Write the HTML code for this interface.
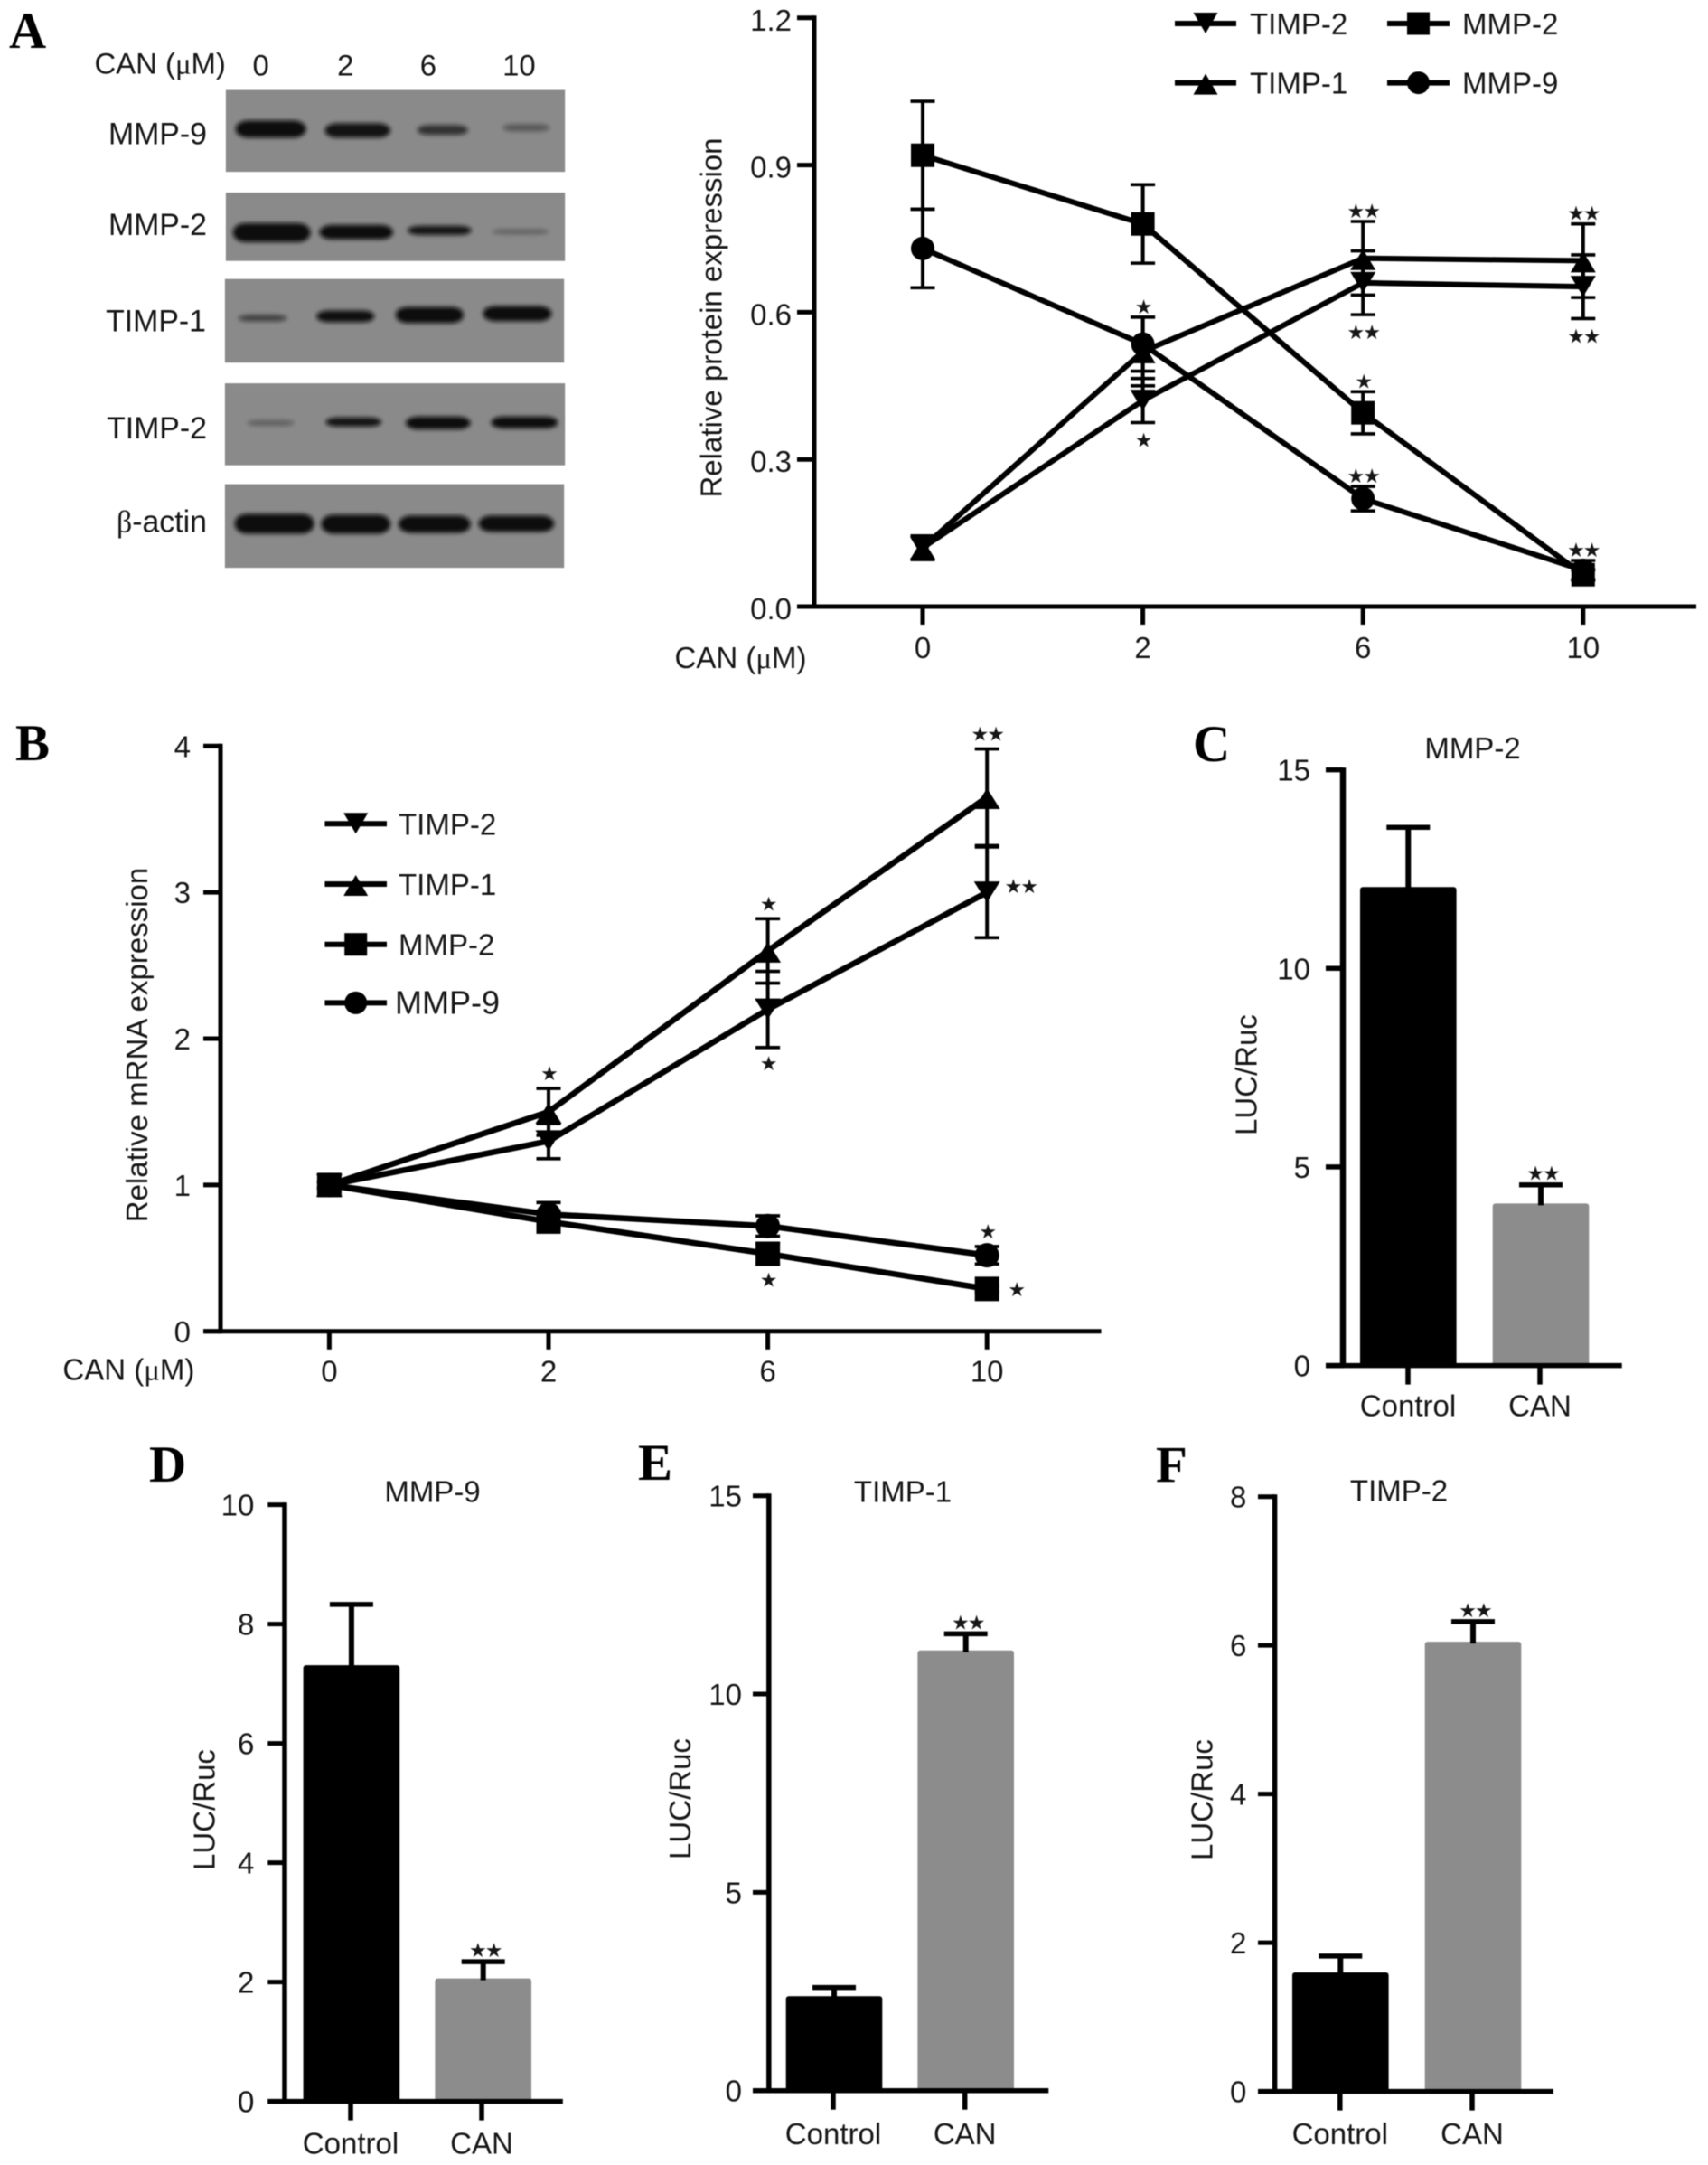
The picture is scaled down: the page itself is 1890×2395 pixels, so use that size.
<!DOCTYPE html>
<html lang="en">
<head>
<meta charset="utf-8">
<title>CAN effect on MMP and TIMP expression</title>
<style>
html,body{margin:0;padding:0;background:#fff;}
#figure{display:block;width:1890px;height:2395px;filter:blur(.6px);}
text{font-family:"Liberation Sans",sans-serif;fill:#161616;font-size:33px;}
.letter{font-family:"Liberation Serif",serif;font-weight:bold;font-size:57px;fill:#000;}
.gr{font-family:"Liberation Serif",serif;}
.band{fill:#0b0b0b;filter:url(#soft);}
.blot{fill:#8a8a8a;}
.blot-label{font-size:34px;}
</style>
</head>
<body>
<svg id="figure" xmlns="http://www.w3.org/2000/svg" width="1890" height="2395" viewBox="0 0 1890 2395">
<defs><filter id="soft" x="-20%" y="-100%" width="140%" height="300%"><feGaussianBlur stdDeviation="2.4"/></filter></defs>
<rect width="1890" height="2395" fill="#fff"/>

<text class="letter" x="10" y="53">A</text>
<text class="letter" x="17" y="841">B</text>
<text class="letter" x="1320" y="842">C</text>
<text class="letter" x="165" y="1639">D</text>
<text class="letter" x="706" y="1637">E</text>
<text class="letter" x="1279" y="1639">F</text>

<g transform="scale(.9955)">
  <text x="178" y="82" text-anchor="middle">CAN (<tspan class="gr">μ</tspan>M)</text>
  <text x="290" y="84" text-anchor="middle">0</text>
  <text x="384" y="84" text-anchor="middle">2</text>
  <text x="476" y="84" text-anchor="middle">6</text>
  <text x="577" y="84" text-anchor="middle">10</text>

  <text class="blot-label" x="230" y="160" text-anchor="end">MMP-9</text>
  <text class="blot-label" x="230" y="261" text-anchor="end">MMP-2</text>
  <text class="blot-label" x="229" y="368" text-anchor="end">TIMP-1</text>
  <text class="blot-label" x="230" y="487" text-anchor="end">TIMP-2</text>
  <text class="blot-label" x="230" y="591" text-anchor="end"><tspan class="gr">β</tspan>-actin</text>

  <g>
    <rect class="blot" x="251" y="100" width="377" height="91"/>
    <rect class="band" x="262" y="134" width="78" height="19" rx="14" ry="9"/>
    <rect class="band" x="361" y="137" width="73" height="16" rx="14" ry="8" opacity=".95"/>
    <rect class="band" x="464" y="139" width="56" height="11" rx="14" ry="5" opacity=".7"/>
    <rect class="band" x="559" y="138" width="52" height="8" rx="14" ry="4" opacity=".4"/>
  </g>
  <g>
    <rect class="blot" x="251" y="214" width="377" height="76"/>
    <rect class="band" x="259" y="248" width="86" height="21" rx="14" ry="10"/>
    <rect class="band" x="355" y="250" width="82" height="16" rx="14" ry="8"/>
    <rect class="band" x="453" y="251" width="71" height="10" rx="14" ry="5" opacity=".95"/>
    <rect class="band" x="547" y="255" width="63" height="5" rx="14" ry="2.5" opacity=".35"/>
  </g>
  <g>
    <rect class="blot" x="250" y="310" width="377" height="93" fill="#858585"/>
    <rect class="band" x="265" y="350" width="54" height="7" rx="14" ry="3.5" opacity=".6"/>
    <rect class="band" x="352" y="345" width="64" height="13" rx="14" ry="6" opacity=".98"/>
    <rect class="band" x="440" y="341" width="75" height="18" rx="14" ry="8"/>
    <rect class="band" x="537" y="340" width="76" height="17" rx="14" ry="8"/>
  </g>
  <g>
    <rect class="blot" x="250" y="426" width="378" height="91"/>
    <rect class="band" x="275" y="467" width="52" height="6" rx="14" ry="3" opacity=".35"/>
    <rect class="band" x="362" y="464" width="62" height="10" rx="14" ry="5" opacity=".95"/>
    <rect class="band" x="451" y="463" width="72" height="14" rx="14" ry="7"/>
    <rect class="band" x="546" y="463" width="74" height="13" rx="14" ry="6"/>
  </g>
  <g>
    <rect class="blot" x="250" y="538" width="377" height="93"/>
    <rect class="band" x="261" y="571" width="88" height="22" rx="14" ry="10"/>
    <rect class="band" x="357" y="572" width="77" height="21" rx="14" ry="10"/>
    <rect class="band" x="443" y="573" width="80" height="19" rx="14" ry="9"/>
    <rect class="band" x="532" y="573" width="84" height="18" rx="14" ry="9"/>
  </g>
</g>

<text x="819.5" y="739" text-anchor="middle">CAN (<tspan class="gr">μ</tspan>M)</text>
<text x="142.4" y="1526.6" text-anchor="middle">CAN (<tspan class="gr">μ</tspan>M)</text>
</svg>

<script>
// ---------- shared categories ----------
const doseLabels = ['0', '2', '6', '10'];
const barLabels = ['Control', 'CAN'];

// ---------- panel A: protein expression ----------
const aTicks = ['0.0', '0.3', '0.6', '0.9', '1.2'];
const aTimp2 = [0.12, 0.42, 0.66, 0.652];
const aTimp2Err = [0.024, 0.045, 0.065, 0.065];
const aTimp1 = [0.12, 0.52, 0.71, 0.705];
const aTimp1Err = [0.024, 0.07, 0.075, 0.075];
const aMmp2 = [0.92, 0.78, 0.395, 0.065];
const aMmp2Err = [0.11, 0.08, 0.043, 0.01];
const aMmp9 = [0.73, 0.535, 0.22, 0.074];
const aMmp9Err = [0.08, 0.055, 0.025, 0.02];

// ---------- panel B: mRNA expression ----------
const bTicks = ['0', '1', '2', '3', '4'];
const bTimp2 = [1, 1.3, 2.2, 3.0];
const bTimp2Err = [0.02, 0.12, 0.26, 0.31];
const bTimp1 = [1, 1.5, 2.6, 3.65];
const bTimp1Err = [0.02, 0.16, 0.22, 0.33];
const bMmp2 = [1, 0.75, 0.53, 0.29];
const bMmp2Err = [0.02, 0.05, 0.07, 0.02];
const bMmp9 = [1, 0.8, 0.72, 0.52];
const bMmp9Err = [0.02, 0.08, 0.07, 0.06];

// ---------- panels C-F: luciferase ----------
const cTicks = ['0', '5', '10', '15'];
const cValues = [12.05, 4.08];
const cErrors = [1.5, 0.47];
const dTicks = ['0', '2', '4', '6', '8', '10'];
const dValues = [7.31, 2.06];
const dErrors = [1.02, 0.28];
const eTicks = ['0', '5', '10', '15'];
const eValues = [2.38, 11.1];
const eErrors = [0.22, 0.42];
const fTicks = ['0', '2', '4', '6', '8'];
const fValues = [1.6, 6.05];
const fErrors = [0.22, 0.27];

const NS = 'http://www.w3.org/2000/svg';
const fig = document.getElementById('figure');

function mk(tag, parent, props) {
  const e = document.createElementNS(NS, tag);
  for (const k in props) e.setAttribute(k, props[k]);
  parent.appendChild(e);
  return e;
}
function line(parent, x1, y1, x2, y2, w, name) {
  const e = mk('line', parent, {x1: x1, y1: y1, x2: x2, y2: y2, stroke: '#000', 'stroke-width': w});
  
  
  return e;
}
function label(parent, str, x, y, anchor, name, size) {
  const e = mk('text', parent, {x: x, y: y, 'text-anchor': anchor});
  if (size) e.style.fontSize = size + 'px';
  e.textContent = str;
  
  
  return e;
}
function rotated(parent, str, x, y, name) {
  const e = mk('text', parent, {x: x, y: y, 'text-anchor': 'middle', transform: 'rotate(-90 ' + x + ' ' + y + ')'});
  e.textContent = str;
  
  
  return e;
}
function stars(parent, count, x, cy) {
  const str = '★'.repeat(count);
  const e = label(parent, str, x, cy + 8, 'middle', 'significance-marker', 22);
  e.style.fontFamily = '"DejaVu Sans", sans-serif';
  e.style.letterSpacing = '-2px';
  return e;
}
function marker(parent, shape, x, y, s, name) {
  let e;
  const h = s / 2;
  if (shape === 'square') {
    e = mk('rect', parent, {x: x - h, y: y - h, width: s, height: s, fill: '#000'});
  } else if (shape === 'circle') {
    e = mk('circle', parent, {cx: x, cy: y, r: h, fill: '#000'});
  } else if (shape === 'up') {
    e = mk('polygon', parent, {points: (x - h - 1) + ',' + (y + 13) + ' ' + (x + h + 1) + ',' + (y + 13) + ' ' + x + ',' + (y - 10), fill: '#000'});
  } else {
    e = mk('polygon', parent, {points: (x - h - 1) + ',' + (y - 12) + ' ' + (x + h + 1) + ',' + (y - 12) + ' ' + x + ',' + (y + 11), fill: '#000'});
  }
  
  
  return e;
}
function legendEntry(parent, str, shape, x1, x2, y, textX, slug, size) {
  const g = mk('g', parent, {});
  
  
  line(g, x1, y, x2, y, 6, 'legend-line');
  marker(g, shape, (x1 + x2) / 2, y, 25, 'legend-marker');
  label(g, str, textX, y + 12, 'start', 'legend-label', size);
}

function yAxis(g, geo, ticks, yOf) {
  const top = yOf(Number(ticks[ticks.length - 1]));
  const bottom = yOf(Number(ticks[0]));
  line(g, geo.axisX, top - 2.5, geo.axisX, bottom + 2.5, geo.axisW, 'y-axis');
  ticks.forEach(function (t) {
    const y = yOf(Number(t));
    line(g, geo.tickLeft, y, geo.axisX, y, geo.tickW, 'y-tick');
    label(g, t, geo.labelRight, y + (geo.tickDy || 12), 'end', 'y-tick-label');
  });
}

function drawLinePanel(slug, geo, ticks, series, notes) {
  const g = mk('g', fig, {});
  
  
  const tMax = Number(ticks[ticks.length - 1]);
  const yOf = function (v) { return geo.y0 - v * (geo.y0 - geo.yTop) / tMax; };
  const xOf = function (i) { return geo.x0 + i * geo.step; };

  yAxis(g, geo, ticks, yOf);
  line(g, geo.xLeft, geo.y0, geo.xRight, geo.y0, geo.axisW, 'x-axis');
  doseLabels.forEach(function (c, i) {
    line(g, xOf(i), geo.y0, xOf(i), geo.y0 + 20, geo.tickW, 'x-tick');
    label(g, c, xOf(i), geo.xLabelY, 'middle', 'x-tick-label');
  });
  rotated(g, geo.title, geo.titleX, geo.titleY, 'y-axis-title');

  series.forEach(function (s) {
    const sg = mk('g', g, {});
    
    
    s.values.forEach(function (v, i) {
      const hi = yOf(v + s.errs[i]);
      const lo = yOf(v - s.errs[i]);
      line(sg, xOf(i), hi, xOf(i), lo, 4, 'error-bar');
      line(sg, xOf(i) - 13.5, hi, xOf(i) + 13.5, hi, 3.6, 'error-cap');
      line(sg, xOf(i) - 13.5, lo, xOf(i) + 13.5, lo, 3.6, 'error-cap');
    });
    const pts = s.values.map(function (v, i) { return xOf(i) + ',' + yOf(v); }).join(' ');
    const pl = mk('polyline', sg, {points: pts, fill: 'none', stroke: '#000', 'stroke-width': geo.lineW, 'stroke-linejoin': 'round'});
    
    
    s.values.forEach(function (v, i) {
      marker(sg, s.shape, xOf(i), yOf(v), geo.markerSize, 'data-point');
    });
  });

  notes.forEach(function (n) {
    const s = series[n.series];
    const v = s.values[n.cat];
    const e = s.errs[n.cat];
    if (n.side === 'up') stars(g, n.count, xOf(n.cat), yOf(v + e) - geo.upGap);
    else if (n.side === 'down') stars(g, n.count, xOf(n.cat), yOf(v - e) + geo.downGap);
    else stars(g, n.count, xOf(n.cat) + (n.count === 2 ? 37 : 32), yOf(v) - (n.count === 2 ? 7 : 0));
  });
  return g;
}

function drawBarPanel(slug, geo, ticks, values, errors, note) {
  const g = mk('g', fig, {});
  
  
  const tMax = Number(ticks[ticks.length - 1]);
  const yOf = function (v) { return geo.y0 - v * (geo.y0 - geo.yTop) / tMax; };
  const colors = ['#000', '#8c8c8c'];

  values.forEach(function (v, i) {
    const cx = geo.centers[i];
    const b = mk('rect', g, {x: cx - 53.3, y: yOf(v), width: 106.6, height: geo.y0 - yOf(v), rx: 3, fill: colors[i]});
    
    
    line(g, cx, yOf(v) + 2, cx, yOf(v + errors[i]), 6, 'error-bar');
    line(g, cx - 24, yOf(v + errors[i]), cx + 24, yOf(v + errors[i]), 5.5, 'error-cap');
    line(g, geo.ticks[i], geo.y0, geo.ticks[i], geo.y0 + 21, 5.5, 'x-tick');
    label(g, barLabels[i], geo.ticks[i], geo.xLabelY, 'middle', 'x-tick-label');
  });
  yAxis(g, geo, ticks, yOf);
  line(g, geo.tickLeft, geo.y0, geo.xRight, geo.y0, 5.5, 'x-axis');
  rotated(g, 'LUC/Ruc', geo.titleX, geo.titleY, 'y-axis-title');
  label(g, geo.title, geo.plotTitleX, geo.plotTitleY, 'middle', 'chart-title');
  stars(g, 2, geo.centers[note] + 2, yOf(values[note] + errors[note]) - 13);
  return g;
}

// panel A
const panelA = drawLinePanel('a',
  {y0: 671, yTop: 19.8, x0: 1021, step: 243.6, axisX: 901, axisW: 5, tickW: 5, tickLeft: 882, labelRight: 876, tickDy: 14,
   xLeft: 882, xRight: 1877, xLabelY: 728, title: 'Relative protein expression', titleX: 798.6, titleY: 351.5,
   markerSize: 26, lineW: 6, upGap: 12, downGap: 19},
  aTicks,
  [
    {slug: 'timp-2', shape: 'down', values: aTimp2, errs: aTimp2Err},
    {slug: 'timp-1', shape: 'up', values: aTimp1, errs: aTimp1Err},
    {slug: 'mmp-2', shape: 'square', values: aMmp2, errs: aMmp2Err},
    {slug: 'mmp-9', shape: 'circle', values: aMmp9, errs: aMmp9Err}
  ],
  [
    {series: 1, cat: 1, count: 1, side: 'up'},
    {series: 0, cat: 1, count: 1, side: 'down'},
    {series: 1, cat: 2, count: 2, side: 'up'},
    {series: 0, cat: 2, count: 2, side: 'down'},
    {series: 1, cat: 3, count: 2, side: 'up'},
    {series: 0, cat: 3, count: 2, side: 'down'},
    {series: 2, cat: 2, count: 1, side: 'up'},
    {series: 3, cat: 2, count: 2, side: 'up'},
    {series: 3, cat: 3, count: 2, side: 'up'}
  ]);
legendEntry(panelA, 'TIMP-2', 'down', 1300, 1368, 26, 1383, 'timp-2');
legendEntry(panelA, 'MMP-2', 'square', 1535, 1604, 26, 1618, 'mmp-2');
legendEntry(panelA, 'TIMP-1', 'up', 1300, 1368, 91.6, 1383, 'timp-1');
legendEntry(panelA, 'MMP-9', 'circle', 1535, 1604, 91.6, 1618, 'mmp-9');

// panel B
const panelB = drawLinePanel('b',
  {y0: 1472.8, yTop: 825.3, x0: 364.4, step: 242.6, axisX: 244, axisW: 5, tickW: 5, tickLeft: 225, labelRight: 211,
   xLeft: 225, xRight: 1218.5, xLabelY: 1528.7, title: 'Relative mRNA expression', titleX: 163, titleY: 1156,
   markerSize: 27, lineW: 6.5, upGap: 17, downGap: 17},
  bTicks,
  [
    {slug: 'timp-2', shape: 'down', values: bTimp2, errs: bTimp2Err},
    {slug: 'timp-1', shape: 'up', values: bTimp1, errs: bTimp1Err},
    {slug: 'mmp-9', shape: 'circle', values: bMmp9, errs: bMmp9Err},
    {slug: 'mmp-2', shape: 'square', values: bMmp2, errs: bMmp2Err}
  ],
  [
    {series: 1, cat: 1, count: 1, side: 'up'},
    {series: 1, cat: 2, count: 1, side: 'up'},
    {series: 0, cat: 2, count: 1, side: 'down'},
    {series: 1, cat: 3, count: 2, side: 'up'},
    {series: 0, cat: 3, count: 2, side: 'right'},
    {series: 2, cat: 3, count: 1, side: 'up'},
    {series: 3, cat: 2, count: 1, side: 'down'},
    {series: 3, cat: 3, count: 1, side: 'right'}
  ]);
legendEntry(panelB, 'TIMP-2', 'down', 359.4, 428, 911.3, 441, 'timp-2');
legendEntry(panelB, 'TIMP-1', 'up', 359.4, 428, 978, 441, 'timp-1');
legendEntry(panelB, 'MMP-2', 'square', 359.4, 428, 1044.7, 441, 'mmp-2');
legendEntry(panelB, 'MMP-9', 'circle', 359.4, 428, 1109.4, 437, 'mmp-9', 36);

// panels C-F
drawBarPanel('c',
  {y0: 1510.6, yTop: 851.6, axisX: 1486, axisW: 6.5, tickW: 5.5, tickLeft: 1467, labelRight: 1450, xRight: 1794.7,
   centers: [1558.3, 1705], ticks: [1558, 1704], xLabelY: 1566.5, title: 'MMP-2', plotTitleX: 1629.5, plotTitleY: 839,
   titleX: 1390.5, titleY: 1189},
  cTicks, cValues, cErrors, 1);
drawBarPanel('d',
  {y0: 2324.6, yTop: 1664.6, axisX: 315, axisW: 5.5, tickW: 5, tickLeft: 296.3, labelRight: 281.4, xRight: 622.8,
   centers: [388.9, 534.7], ticks: [388, 533], xLabelY: 2382.4, title: 'MMP-9', plotTitleX: 478.5, plotTitleY: 1661.6,
   titleX: 237.6, titleY: 2002},
  dTicks, dValues, dErrors, 1);
drawBarPanel('e',
  {y0: 2312.7, yTop: 1654.7, axisX: 850.8, axisW: 5.5, tickW: 5, tickLeft: 833, labelRight: 821, xRight: 1160.3,
   centers: [923, 1068.7], ticks: [922, 1067.7], xLabelY: 2372, title: 'TIMP-1', plotTitleX: 999, plotTitleY: 1661.5,
   titleX: 764, titleY: 1990},
  eTicks, eValues, eErrors, 1);
drawBarPanel('f',
  {y0: 2313.6, yTop: 1655.7, axisX: 1410.6, axisW: 5.5, tickW: 5, tickLeft: 1392, labelRight: 1379.3, xRight: 1718.8,
   centers: [1483.3, 1630], ticks: [1482.8, 1629], xLabelY: 2372, title: 'TIMP-2', plotTitleX: 1548, plotTitleY: 1660.5,
   titleX: 1341.5, titleY: 1991},
  fTicks, fValues, fErrors, 1);
</script>
</body>
</html>
